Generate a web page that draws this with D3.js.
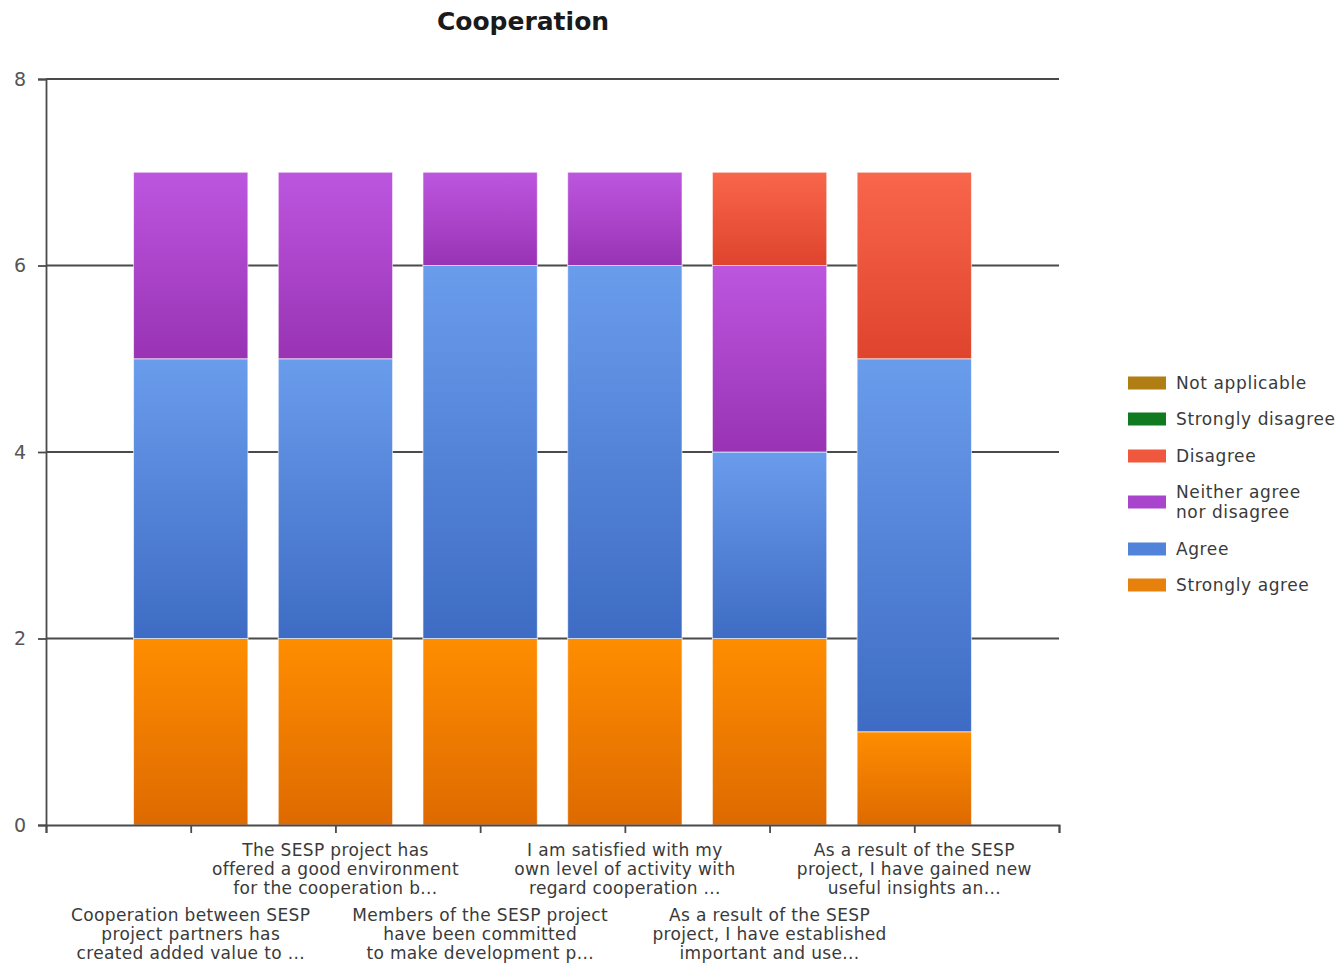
<!DOCTYPE html>
<html>
<head>
<meta charset="utf-8">
<script src="https://cdn.jsdelivr.net/npm/d3@7"></script>
<style>
  html, body { margin: 0; padding: 0; background: #fff; }
  svg { display: block; }
  text { font-family: "DejaVu Sans", Verdana, sans-serif; }
</style>
</head>
<body>
<svg id="chart" width="1341" height="964"></svg>
<script>
// Survey questions (x categories), shown as wrapped, truncated labels
const questions = [
  ["Cooperation between SESP", "project partners has", "created added value to ..."],
  ["The SESP project has", "offered a good environment", "for the cooperation b..."],
  ["Members of the SESP project", "have been committed", "to make development p..."],
  ["I am satisfied with my", "own level of activity with", "regard cooperation ..."],
  ["As a result of the SESP", "project, I have established", "important and use..."],
  ["As a result of the SESP", "project, I have gained new", "useful insights an..."]
];

// Response counts per question, one array per answer option
const stronglyAgree    = [2, 2, 2, 2, 2, 1];
const agree            = [3, 3, 4, 4, 2, 4];
const neitherAgree     = [2, 2, 1, 1, 2, 0];
const disagree         = [0, 0, 0, 0, 1, 2];
const stronglyDisagree = [0, 0, 0, 0, 0, 0];
const notApplicable    = [0, 0, 0, 0, 0, 0];

// Stack order, bottom to top
const seriesKeys = ["Strongly agree", "Agree", "Neither agree nor disagree", "Disagree", "Strongly disagree", "Not applicable"];
const seriesValues = [stronglyAgree, agree, neitherAgree, disagree, stronglyDisagree, notApplicable];

const yTicks = [0, 2, 4, 6, 8];

// Colours: gradient top, gradient bottom, legend swatch
const palette = {
  "Strongly agree":             ["#ff8d00", "#de6a00", "#e8800c"],
  "Agree":                      ["#6a9cec", "#3e6cc4", "#5283da"],
  "Neither agree nor disagree": ["#bd56df", "#9933b4", "#a945cd"],
  "Disagree":                   ["#f8664b", "#df442d", "#ef583d"],
  "Strongly disagree":          ["#168a28", "#0b6c1a", "#0f7a20"],
  "Not applicable":             ["#bf8a16", "#9c6c0a", "#b07e12"]
};

const svg = d3.select("#chart");
const margin = { left: 46, right: 1059, top: 79, bottom: 825 };

const table = questions.map((q, i) => {
  const row = { index: i };
  seriesKeys.forEach((k, s) => { row[k] = seriesValues[s][i]; });
  return row;
});
const stacked = d3.stack().keys(seriesKeys)(table);

// Category slots sit at 1..n on a 0..n+1 axis
const x = d3.scaleLinear().domain([0, questions.length + 1]).range([margin.left, margin.right]);
const y = d3.scaleLinear().domain([0, 8]).range([margin.bottom, margin.top]);
const barWidth = (x(1) - x(0)) * 0.79;

// Gradients per series
const defs = svg.append("defs");
seriesKeys.forEach((k, s) => {
  const g = defs.append("linearGradient")
    .attr("id", "grad" + s)
    .attr("x1", 0).attr("y1", 0).attr("x2", 0).attr("y2", 1);
  g.append("stop").attr("offset", "0%").attr("stop-color", palette[k][0]);
  g.append("stop").attr("offset", "100%").attr("stop-color", palette[k][1]);
});

// Title
svg.append("text")
  .attr("x", 523).attr("y", 30)
  .attr("text-anchor", "middle")
  .attr("font-size", 25).attr("font-weight", "bold")
  .attr("fill", "#1a1a1a")
  .text("Cooperation");

// Horizontal gridlines
svg.append("g")
  .selectAll("line")
  .data(yTicks.filter(t => t > 0))
  .join("line")
  .attr("x1", margin.left).attr("x2", margin.right)
  .attr("y1", d => y(d)).attr("y2", d => y(d))
  .attr("stroke", "#4a4a4a").attr("stroke-width", 1.8);

// Y axis
const yAxis = svg.append("g")
  .attr("transform", `translate(${margin.left},0)`)
  .call(d3.axisLeft(y).tickValues(yTicks).tickSize(8).tickPadding(12).tickFormat(d3.format("d")));
yAxis.select(".domain").attr("stroke", "#4a4a4a").attr("stroke-width", 1.8);
yAxis.selectAll(".tick line").attr("stroke", "#4a4a4a").attr("stroke-width", 1.8);
yAxis.selectAll(".tick text").attr("font-size", 19).attr("fill", "#555")
  .attr("font-family", "DejaVu Sans, sans-serif");

// Bars
svg.append("g")
  .selectAll("g")
  .data(stacked)
  .join("g")
  .attr("fill", (d, s) => `url(#grad${s})`)
  .selectAll("rect")
  .data(d => d.filter(p => p[1] > p[0]))
  .join("rect")
  .attr("x", d => x(d.data.index + 1) - barWidth / 2)
  .attr("width", barWidth)
  .attr("y", d => y(d[1]))
  .attr("height", d => y(d[0]) - y(d[1]))
  .attr("stroke", "rgba(255,255,255,0.6)")
  .attr("stroke-width", 1);

// X axis with a tick under each question and at both ends
const xTickVals = d3.range(0, questions.length + 2);
const xAxis = svg.append("g")
  .attr("transform", `translate(0,${margin.bottom})`)
  .call(d3.axisBottom(x).tickValues(xTickVals).tickSize(8).tickFormat(""));
xAxis.select(".domain").attr("stroke", "#4a4a4a").attr("stroke-width", 1.8);
xAxis.selectAll(".tick line").attr("stroke", "#4a4a4a").attr("stroke-width", 1.8);

// Staggered category labels
const labels = svg.append("g").attr("font-size", 17).attr("letter-spacing", 0.35).attr("fill", "#3a3a3a");
questions.forEach((lines, i) => {
  const top = i % 2 === 1 ? 856 : 921;
  const t = labels.append("text")
    .attr("text-anchor", "middle")
    .attr("x", x(i + 1))
    .attr("y", top);
  lines.forEach((line, j) => {
    t.append("tspan").attr("x", x(i + 1)).attr("dy", j === 0 ? 0 : 19).text(line);
  });
});

// Legend, listed top of stack first
const legendItems = [
  { key: "Not applicable", lines: ["Not applicable"], cy: 383 },
  { key: "Strongly disagree", lines: ["Strongly disagree"], cy: 419 },
  { key: "Disagree", lines: ["Disagree"], cy: 456 },
  { key: "Neither agree nor disagree", lines: ["Neither agree", "nor disagree"], cy: 502 },
  { key: "Agree", lines: ["Agree"], cy: 549 },
  { key: "Strongly agree", lines: ["Strongly agree"], cy: 585 }
];
const legend = svg.append("g");
legendItems.forEach(item => {
  legend.append("rect")
    .attr("x", 1128).attr("y", item.cy - 6.5)
    .attr("width", 38).attr("height", 13)
    .attr("fill", palette[item.key][2]);
  const t = legend.append("text")
    .attr("x", 1176)
    .attr("y", item.cy + 6 - (item.lines.length - 1) * 10)
    .attr("font-size", 17).attr("letter-spacing", 0.6).attr("fill", "#3a3a3a");
  item.lines.forEach((line, j) => {
    t.append("tspan").attr("x", 1176).attr("dy", j === 0 ? 0 : 20).text(line);
  });
});
</script>
</body>
</html>
